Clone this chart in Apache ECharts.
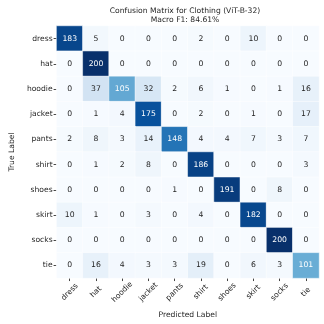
<!DOCTYPE html>
<html><head><meta charset="utf-8">
<script src="https://cdn.jsdelivr.net/npm/echarts@6/dist/echarts.min.js"></script>
<style>html,body{margin:0;padding:0;background:#fff}#c{width:324px;height:324px}</style>
</head><body><div id="c"></div>
<script>
const labels = ['dress','hat','hoodie','jacket','pants','shirt','shoes','skirt','socks','tie'];
const rowDress  = [183,5,0,0,0,2,0,10,0,0];
const rowHat    = [0,200,0,0,0,0,0,0,0,0];
const rowHoodie = [0,37,105,32,2,6,1,0,1,16];
const rowJacket = [0,1,4,175,0,2,0,1,0,17];
const rowPants  = [2,8,3,14,148,4,4,7,3,7];
const rowShirt  = [0,1,2,8,0,186,0,0,0,3];
const rowShoes  = [0,0,0,0,1,0,191,0,8,0];
const rowSkirt  = [10,1,0,3,0,4,0,182,0,0];
const rowSocks  = [0,0,0,0,0,0,0,0,200,0];
const rowTie    = [0,16,4,3,3,19,0,6,3,101];
const matrix = [rowDress,rowHat,rowHoodie,rowJacket,rowPants,rowShirt,rowShoes,rowSkirt,rowSocks,rowTie];
const titleText = 'Confusion Matrix for Clothing (ViT-B-32)\nMacro F1: 84.61%';

const FONT = 'DejaVu Sans';
const data = [];
matrix.forEach((row, i) => row.forEach((v, j) => {
  data.push({value: [j, i, v], label: {color: v > 90 ? '#ffffff' : '#262626'}});
}));

const chart = echarts.init(document.getElementById('c'), null, {renderer: 'canvas'});
chart.setOption({
  animation: false,
  textStyle: {fontFamily: FONT},
  title: {
    text: titleText, left: 180, top: 2, textAlign: 'center',
    textStyle: {fontFamily: FONT, fontSize: 7.6, fontWeight: 'normal', color: '#262626', lineHeight: 8.5}
  },
  grid: {left: 41, right: 5, top: 26, bottom: 40},
  xAxis: {
    type: 'category', data: labels,
    name: 'Predicted Label', nameLocation: 'middle', nameGap: 30,
    nameTextStyle: {fontFamily: FONT, fontSize: 7.6, color: '#262626'},
    axisLine: {show: false},
    axisTick: {show: true, alignWithLabel: true, length: 3, lineStyle: {color: '#444'}},
    axisLabel: {rotate: 45, align: 'center', verticalAlign: 'middle', fontFamily: FONT, fontSize: 7.6, color: '#262626', margin: 14, interval: 0},
    splitLine: {show: false}
  },
  yAxis: {
    type: 'category', data: labels, inverse: true,
    name: 'True Label', nameLocation: 'middle', nameGap: 33, nameRotate: 90,
    nameTextStyle: {fontFamily: FONT, fontSize: 7.6, color: '#262626'},
    axisLine: {show: false},
    axisTick: {show: true, alignWithLabel: true, length: 3, lineStyle: {color: '#444'}},
    axisLabel: {fontFamily: FONT, fontSize: 7.6, color: '#262626', margin: 4, interval: 0},
    splitLine: {show: false}
  },
  visualMap: {
    show: false, min: 0, max: 200, dimension: 2,
    inRange: {color: ['#f7fbff','#deebf7','#c6dbef','#9ecae1','#6baed6','#4292c6','#2171b5','#08519c','#08306b']}
  },
  series: [{
    type: 'heatmap', data: data,
    itemStyle: {borderColor: '#ffffff', borderWidth: 0.5},
    label: {show: true, fontFamily: FONT, fontSize: 7.7, formatter: p => String(p.value[2])},
    emphasis: {disabled: true}
  }]
});
</script></body></html>
